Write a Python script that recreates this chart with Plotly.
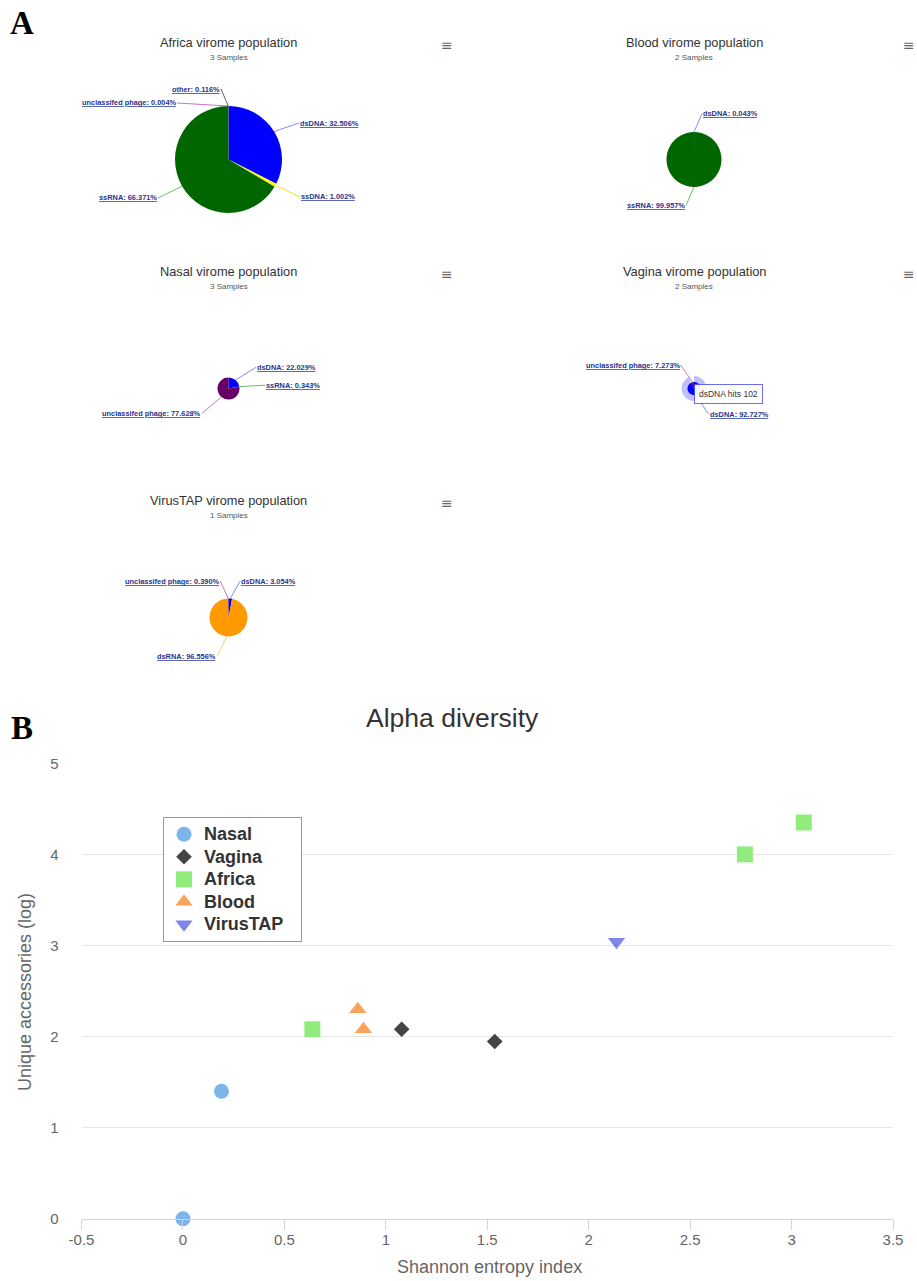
import math
import plotly.graph_objects as go

W, H = 917, 1281

# ---------------- data ----------------
pie_titles = ["Africa virome population", "Blood virome population",
              "Nasal virome population", "Vagina virome population",
              "VirusTAP virome population"]
pie_samples = [3, 2, 3, 2, 1]

africa_labels = ["dsDNA", "ssDNA", "ssRNA", "unclassifed phage", "other"]
africa_values = [32.506, 1.002, 66.371, 0.004, 0.116]

blood_labels = ["dsDNA", "ssRNA"]
blood_values = [0.043, 99.957]

nasal_labels = ["dsDNA", "ssRNA", "unclassifed phage"]
nasal_values = [22.029, 0.343, 77.628]

vagina_labels = ["dsDNA", "unclassifed phage"]
vagina_values = [92.727, 7.273]
vagina_hover_label = "dsDNA"
vagina_hover_hits = 102

virustap_labels = ["dsDNA", "dsRNA", "unclassifed phage"]
virustap_values = [3.054, 96.556, 0.390]

series_names = ["Nasal", "Vagina", "Africa", "Blood", "VirusTAP"]
nasal_x = [0.0, 0.19]
nasal_y = [0.0, 1.40]
vagina_x = [1.078, 1.537]
vagina_y = [2.08, 1.945]
africa_x = [0.638, 2.77, 3.06]
africa_y = [2.08, 4.00, 4.35]
blood_x = [0.862, 0.89]
blood_y = [2.30, 2.08]
virustap_x = [2.137]
virustap_y = [3.04]

x_ticks = [-0.5, 0, 0.5, 1, 1.5, 2, 2.5, 3, 3.5]
y_ticks = [0, 1, 2, 3, 4, 5]

# ---------------- styles / layout ----------------
slice_colors = {"dsDNA": "#0000FF", "ssDNA": "#FFFF00", "ssRNA": "#006600",
                "unclassifed phage": "#660066", "other": "#444444",
                "dsRNA": "#FF9900"}
conn_colors = {"dsDNA": "rgba(60,60,255,0.6)", "ssDNA": "rgba(230,230,0,0.9)",
               "ssRNA": "rgba(0,150,0,0.6)", "unclassifed phage": "rgba(160,30,160,0.6)",
               "other": "rgba(60,60,60,0.8)", "dsRNA": "rgba(255,170,40,0.6)"}
LABEL_COLOR = "#27358f"
FONT = "Liberation Sans, Arial, sans-serif"

col_cx = [228.5, 694.0]
menu_dx = [218.5, 215.0]
row_ty = [42.0, 271.0, 500.0]
# (column, row, radius, label tail offsets relative to centre in px)
pie_layout = [
    (0, 0, 53.5, [(70.5, -36.5), (71.5, 37.5), (-70.5, 38.5), (-51.5, -56.5), (-7.5, -70.5)]),
    (1, 0, 27.5, [(8, -46), (-8, 46)]),
    (0, 1, 11.0, [(27.7, -21.3), (36.7, -3.3), (-26.3, 24.7)]),
    (1, 1, 6.5, [(14.5, 25.5), (-13.5, -23.5)]),
    (0, 2, 19.0, [(11.7, -36.5), (-11.3, 38.5), (-8.3, -36.5)]),
]
pie_data = [(africa_labels, africa_values), (blood_labels, blood_values),
            (nasal_labels, nasal_values), (vagina_labels, vagina_values),
            (virustap_labels, virustap_values)]


def px(x):
    return x / W


def py(y):
    return 1 - y / H


fig = go.Figure()
annotations = []

for i, ((labels, values), (col, row, r, tails)) in enumerate(zip(pie_data, pie_layout)):
    cx = col_cx[col]
    ty = row_ty[row]
    cy = ty + 117.5
    dom = dict(x=[px(cx - r), px(cx + r)], y=[py(cy + r), py(cy - r)])
    if i == 3:
        hr = r + 6
        fig.add_trace(go.Pie(
            labels=labels, values=values, sort=False, direction="clockwise",
            rotation=0, textinfo="none", hoverinfo="skip", showlegend=False,
            marker=dict(colors=["rgba(0,0,255,0.25)" if l == vagina_hover_label else "rgba(0,0,0,0)"
                                for l in labels], line=dict(width=0)),
            domain=dict(x=[px(cx - hr), px(cx + hr)], y=[py(cy + hr), py(cy - hr)])))
    fig.add_trace(go.Pie(
        labels=labels, values=values, sort=False, direction="clockwise",
        rotation=0, textinfo="none", hoverinfo="skip", showlegend=False,
        marker=dict(colors=[slice_colors[l] for l in labels],
                    line=dict(color="white", width=0)),
        domain=dom))
    total = sum(values)
    cum = 0.0
    for lab, val, (tdx, tdy) in zip(labels, values, tails):
        mid = (cum + val / 2) / total * 2 * math.pi
        cum += val
        hx = cx + r * math.sin(mid)
        hy = cy - r * math.cos(mid)
        tx, tyy = cx + tdx, cy + tdy
        annotations.append(dict(
            x=px(hx), y=py(hy), xref="paper", yref="paper",
            ax=tx - hx, ay=tyy - hy, axref="pixel", ayref="pixel",
            text=f"<u>{lab}: {val:.3f}%</u>", showarrow=True, arrowhead=0,
            arrowwidth=1, arrowcolor=conn_colors[lab], standoff=0, startstandoff=0,
            xanchor="left" if tdx > 0 else "right", yanchor="middle",
            borderpad=0,
            font=dict(family=FONT, size=7.4, color=LABEL_COLOR, weight="bold")))
    # title, subtitle, menu icon
    annotations.append(dict(x=px(cx), y=py(ty), xref="paper", yref="paper",
                            text=pie_titles[i], showarrow=False, xanchor="center", yanchor="middle",
                            font=dict(family=FONT, size=12.8, color="#333333")))
    annotations.append(dict(x=px(cx), y=py(ty + 15.5), xref="paper", yref="paper",
                            text=f"{pie_samples[i]} Samples", showarrow=False,
                            xanchor="center", yanchor="middle",
                            font=dict(family=FONT, size=8, color="#555555")))
    annotations.append(dict(x=px(cx + menu_dx[col]), y=py(ty + 2.5), xref="paper", yref="paper",
                            text="≡", showarrow=False, xanchor="center", yanchor="middle",
                            font=dict(family="DejaVu Sans", size=14, color="#666666")))
    if i == 3:
        annotations.append(dict(x=px(cx + 34), y=py(cy + 5.5), xref="paper", yref="paper",
                                text=f"{vagina_hover_label} hits {vagina_hover_hits}",
                                showarrow=False, xanchor="center", yanchor="middle",
                                bgcolor="rgba(255,255,255,0.95)", bordercolor="rgba(60,60,235,0.75)",
                                borderwidth=1, borderpad=4,
                                font=dict(family=FONT, size=8.5, color="#333333")))

# ---------------- scatter ----------------
scatter_series = [
    ("Nasal", nasal_x, nasal_y, "circle", "#7cb5ec", 15),
    ("Vagina", vagina_x, vagina_y, "diamond", "#434348", 12),
    ("Africa", africa_x, africa_y, "square", "#90ed7d", 16),
    ("Blood", blood_x, blood_y, "triangle-up", "#f7a35c", 15),
    ("VirusTAP", virustap_x, virustap_y, "triangle-down", "#8085e9", 15),
]
for name, xs, ys, sym, col, size in scatter_series:
    fig.add_trace(go.Scatter(x=xs, y=ys, mode="markers", cliponaxis=False,
                             name=f'<span style="font-size:18px">{name}</span>&nbsp;&nbsp;&nbsp;',
                             marker=dict(symbol=sym, color=col, size=size, line=dict(width=0)),
                             hoverinfo="skip", xaxis="x", yaxis="y"))

x0, x1 = 81.5, 893.0
y0, y1 = 1218.7, 763.3
fig.update_layout(
    width=W, height=H, autosize=False,
    margin=dict(l=0, r=0, t=0, b=0, pad=0, autoexpand=False),
    paper_bgcolor="white", plot_bgcolor="white",
    xaxis=dict(domain=[px(x0), px(x1)], range=[-0.5, 3.5], tickvals=x_ticks,
               ticktext=[f"{v:g}" for v in x_ticks], automargin=False,
               showgrid=False, zeroline=False, showline=True, linecolor="#ccd6eb",
               linewidth=1, ticks="outside", ticklen=10, tickcolor="#ccd6eb",
               ticklabelstandoff=-3,
               tickfont=dict(family=FONT, size=15, color="#666666"), fixedrange=True),
    yaxis=dict(domain=[py(y0), py(y1)], range=[0, 5], tickvals=y_ticks, automargin=False,
               showgrid=True, gridcolor="#e6e6e6", gridwidth=1, zeroline=False,
               showline=False, ticks="", ticklabelstandoff=22,
               tickfont=dict(family=FONT, size=15, color="#666666"), fixedrange=True),
    legend=dict(x=px(163), y=py(817), xanchor="left", yanchor="top",
                bgcolor="white", bordercolor="#999999", borderwidth=1,
                font=dict(family=FONT, size=15, color="#333333", weight="bold"),
                itemsizing="trace"),
    showlegend=True,
)

annotations += [
    dict(x=px(452), y=py(718), xref="paper", yref="paper", text="Alpha diversity",
         showarrow=False, xanchor="center", yanchor="middle",
         font=dict(family=FONT, size=26.5, color="#333333")),
    dict(x=px(489), y=py(1267), xref="paper", yref="paper", text="Shannon entropy index",
         showarrow=False, xanchor="center", yanchor="middle",
         font=dict(family=FONT, size=18, color="#666666")),
    dict(x=px(25), y=py(992), xref="paper", yref="paper", text="Unique accessories (log)",
         showarrow=False, xanchor="center", yanchor="middle", textangle=-90,
         font=dict(family=FONT, size=18, color="#666666")),
    dict(x=px(22), y=py(23), xref="paper", yref="paper", text="<b>A</b>",
         showarrow=False, xanchor="center", yanchor="middle",
         font=dict(family="Liberation Serif, Times New Roman, serif", size=33, color="black")),
    dict(x=px(22), y=py(728), xref="paper", yref="paper", text="<b>B</b>",
         showarrow=False, xanchor="center", yanchor="middle",
         font=dict(family="Liberation Serif, Times New Roman, serif", size=33, color="black")),
]
fig.update_layout(annotations=annotations)

fig.write_html("out.html", config={"displayModeBar": False},
               post_script="document.body.style.margin='0px';document.body.style.overflow='hidden';")
